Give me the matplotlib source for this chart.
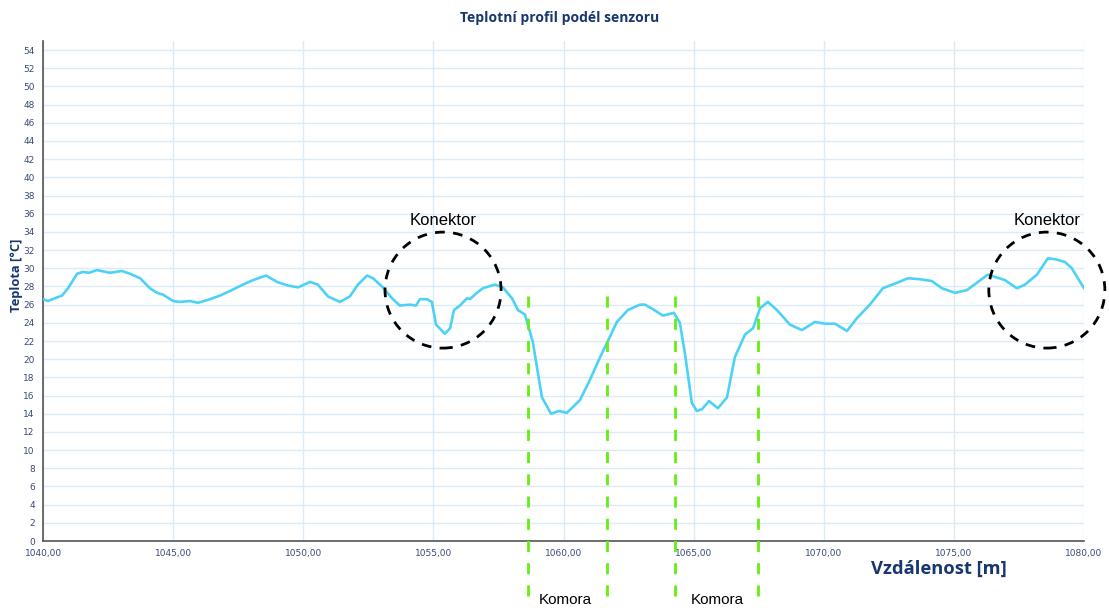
import matplotlib.pyplot as plt
from matplotlib.patches import Ellipse
from matplotlib.ticker import FuncFormatter, MultipleLocator

# distance along sensor [m] and measured temperature [°C]
distance = [1040.00, 1040.19, 1040.54, 1040.73, 1040.96, 1041.31, 1041.54, 1041.77, 1042.07,
            1042.57, 1043.03, 1043.34, 1043.73, 1044.11, 1044.38, 1044.61, 1045.00, 1045.26,
            1045.65, 1045.95, 1046.42, 1046.80, 1047.18, 1047.68, 1048.07, 1048.57, 1048.99,
            1049.41, 1049.80, 1050.26, 1050.56, 1050.95, 1051.41, 1051.79, 1052.10, 1052.45,
            1052.68, 1053.06, 1053.41, 1053.71, 1054.10, 1054.33, 1054.48, 1054.75, 1054.94,
            1055.10, 1055.44, 1055.64, 1055.79, 1056.02, 1056.29, 1056.40, 1056.67, 1056.90,
            1057.36, 1057.67, 1058.02, 1058.25, 1058.52, 1058.82, 1059.17, 1059.52, 1059.82,
            1060.13, 1060.63, 1061.01, 1061.40, 1061.67, 1062.05, 1062.47, 1062.94, 1063.13,
            1063.43, 1063.82, 1064.24, 1064.47, 1064.66, 1064.93, 1065.12, 1065.32, 1065.59,
            1065.93, 1066.28, 1066.58, 1066.97, 1067.28, 1067.55, 1067.85, 1068.20, 1068.70,
            1069.16, 1069.66, 1070.04, 1070.43, 1070.89, 1071.27, 1071.77, 1072.27, 1072.81,
            1073.23, 1073.69, 1074.15, 1074.54, 1075.04, 1075.50, 1075.88, 1076.30, 1076.96,
            1077.42, 1077.73, 1078.19, 1078.61, 1078.88, 1079.26, 1079.53, 1080.00]
temperature = [26.6, 26.4, 26.8, 27.0, 27.8, 29.4, 29.6, 29.5, 29.8,
               29.5, 29.7, 29.4, 28.9, 27.8, 27.3, 27.1, 26.4, 26.3,
               26.4, 26.2, 26.6, 27.0, 27.5, 28.2, 28.7, 29.2, 28.5,
               28.1, 27.9, 28.5, 28.2, 26.9, 26.3, 26.9, 28.2, 29.2,
               28.9, 27.9, 26.7, 25.9, 26.0, 25.9, 26.6, 26.6, 26.3,
               23.8, 22.8, 23.4, 25.4, 25.9, 26.7, 26.6, 27.3, 27.8,
               28.2, 27.9, 26.7, 25.4, 24.9, 21.9, 15.8, 14.0, 14.3,
               14.1, 15.5, 17.7, 20.2, 21.8, 24.1, 25.4, 26.0, 26.0,
               25.5, 24.8, 25.1, 24.0, 20.7, 15.2, 14.3, 14.5, 15.4,
               14.6, 15.8, 20.2, 22.7, 23.4, 25.6, 26.3, 25.4, 23.8,
               23.2, 24.1, 23.9, 23.9, 23.1, 24.5, 26.0, 27.8, 28.4,
               28.9, 28.8, 28.6, 27.8, 27.3, 27.6, 28.4, 29.3, 28.7,
               27.8, 28.2, 29.3, 31.1, 31.0, 30.7, 30.0, 27.8]

# chamber boundaries and connector positions
chamber_edges = [1058.63, 1061.67, 1064.28, 1067.47]
chamber_labels = [1060.05, 1065.90]
connectors = [1055.37, 1078.57]

navy = '#17376E'
tick_col = '#3B4A78'

fig = plt.figure(figsize=(11.09, 6.10), dpi=100)
ax = fig.add_axes([0.0388, 0.1131, 0.9387, 0.8197])

ax.plot(distance, temperature, color='#4DD2F7', linewidth=1.9, zorder=3,
        solid_joinstyle='round', solid_capstyle='round')

ax.set_xlim(1040, 1080)
ax.set_ylim(0, 55)
ax.xaxis.set_major_locator(MultipleLocator(5))
ax.set_yticks(range(0, 55, 2))
ax.xaxis.set_major_formatter(FuncFormatter(lambda v, p: f'{v:.2f}'.replace('.', ',')))
ax.grid(True, color='#DCEBF5', linewidth=1.0, zorder=0)
ax.tick_params(length=0, labelsize=6.5, colors=tick_col, pad=6)

ax.spines['top'].set_visible(False)
ax.spines['right'].set_visible(False)
for side in ['left', 'bottom']:
    ax.spines[side].set_color('#555555')
    ax.spines[side].set_linewidth(1.2)

for xe in chamber_edges:
    ax.plot([xe, xe], [27.0, -7.3], color='#66EE11', linestyle=(0, (4, 4)),
            linewidth=2.0, clip_on=False, zorder=4)

for xl in chamber_labels:
    ax.text(xl, -6.5, 'Komora', ha='center', va='center', fontsize=11,
            family='Liberation Sans', clip_on=False)

for xc in connectors:
    ax.add_patch(Ellipse((xc, 27.6), 4.46, 12.76, fill=False, edgecolor='black',
                         linestyle=(0, (3.5, 3)), linewidth=2.0, clip_on=False, zorder=5))
    ax.text(xc, 35.2, 'Konektor', ha='center', va='center', fontsize=12,
            family='Liberation Sans')

fig.text(0.505, 0.970, 'Teplotní profil podél senzoru', ha='center', va='center',
         fontsize=10, fontweight='bold', color=navy, family='Open Sans')
fig.text(0.015, 0.548, 'Teplota [°C]', ha='center', va='center', rotation=90,
         fontsize=9.3, fontweight='bold', color=navy, family='Open Sans')
fig.text(0.847, 0.068, 'Vzdálenost [m]', ha='center', va='center',
         fontsize=13.2, fontweight='bold', color=navy, family='Open Sans')

fig.savefig('out.png', dpi=100)
